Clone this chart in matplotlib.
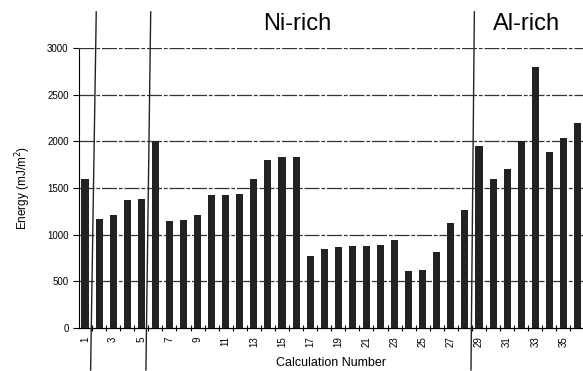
import numpy as np
import matplotlib.pyplot as plt

plt.rcParams['font.family'] = ['Liberation Sans', 'DejaVu Sans']

# calculation numbers and energies (mJ/m^2)
calc_num = np.arange(1, 37)
energy = [1600, 1165, 1210, 1370, 1385, 2000, 1150, 1155, 1210, 1420,
          1425, 1435, 1600, 1800, 1835, 1835, 770, 845, 870, 880,
          880, 890, 945, 610, 620, 815, 1130, 1265, 1955, 1600,
          1705, 2000, 2795, 1890, 2040, 2195]
y_ticks = [0, 500, 1000, 1500, 2000, 2500, 3000]
x_ticks = list(range(1, 36, 2))
# group separators (hand drawn, slightly tilted): (x at top, x at bottom)
separators = [(1.80, 1.40), (5.67, 5.33), (28.67, 28.43)]

fig = plt.figure(figsize=(5.83, 3.71), dpi=100)
ax = fig.add_axes([0.1355, 0.116, 0.8645, 0.7546])

for y in y_ticks[1:]:
    ax.axhline(y, color='#333333', lw=0.9, ls=(0, (12, 1.5, 3, 1.5)), zorder=1)

ax.bar(calc_num, energy, width=0.5, color='#222222', zorder=3)

ax.set_xlim(0.574, 36.39)
ax.set_ylim(0, 3000)
ax.set_yticks(y_ticks)
ax.set_yticklabels([str(v) for v in y_ticks], fontsize=7)
ax.set_xticks(x_ticks)
ax.set_xticklabels([str(v) for v in x_ticks], fontsize=7, rotation=90)
ax.set_xticks(np.arange(1.5, 36.5, 1), minor=True)
ax.tick_params(axis='x', which='major', length=0, pad=6)
ax.tick_params(axis='x', which='minor', length=4, direction='inout', width=0.8)
ax.tick_params(axis='y', length=4, direction='out', width=0.8)

for s in ['top', 'right']:
    ax.spines[s].set_visible(False)
ax.spines['left'].set_linestyle((0, (3, 1)))
ax.spines['left'].set_linewidth(0.8)
ax.spines['bottom'].set_linewidth(0.9)

for xt, xb in separators:
    ax.plot([xt, xb], [1.129, -0.15], color='#222222', lw=1.0,
            transform=ax.get_xaxis_transform(), clip_on=False, zorder=4)

ax.set_ylabel('Energy (mJ/m$^2$)', fontsize=8.5, labelpad=10)
ax.set_xlabel('Calculation Number', fontsize=9, labelpad=7)

ax.text(16.1, 1.086, 'Ni-rich', transform=ax.get_xaxis_transform(),
        fontsize=17, ha='center', va='center')
ax.text(32.4, 1.086, 'Al-rich', transform=ax.get_xaxis_transform(),
        fontsize=17, ha='center', va='center')

fig.savefig('out.png', dpi=100)
